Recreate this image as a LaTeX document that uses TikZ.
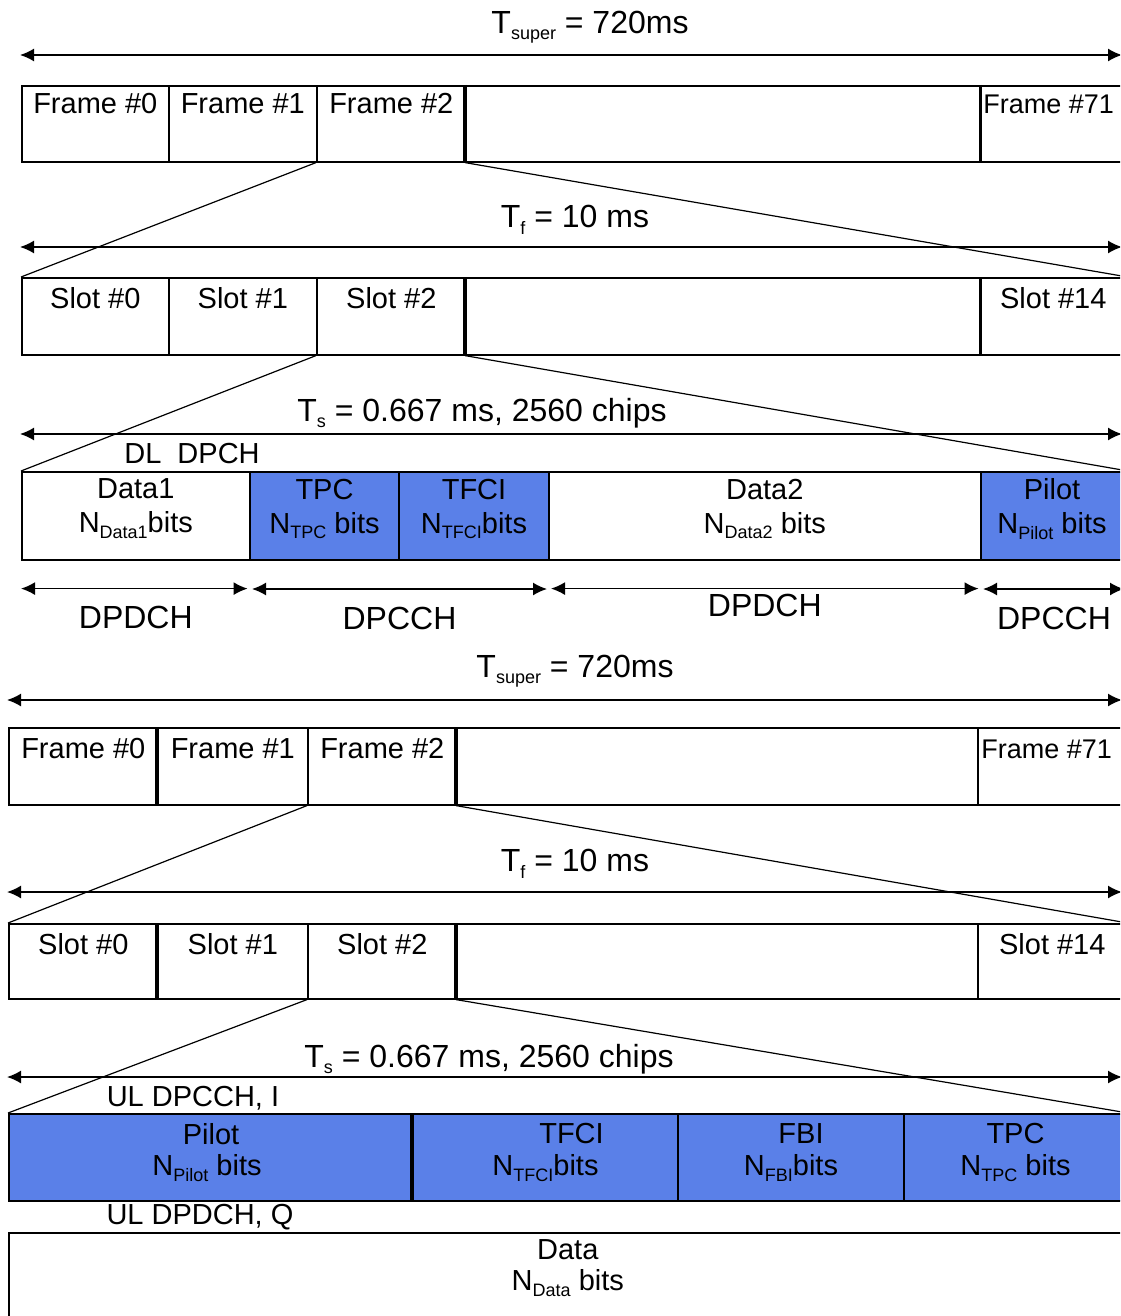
\documentclass[tikz,border=0pt]{standalone}
\usepackage{fontspec}
\setmainfont{Liberation Sans}
\usetikzlibrary{arrows.meta,calc}
\definecolor{chanblue}{RGB}{90,128,232}
\newcommand{\lsub}[1]{\raisebox{-0.2em}{\fontsize{9}{9}\selectfont #1}}

\begin{document}
\begin{tikzpicture}[x=0.5pt,y=-0.5pt,font=\fontsize{14.5}{17}\selectfont]
\useasboundingbox (0,0) rectangle (1120,1316);
\clip (0,0) rectangle (1120,1316);
\tikzstyle{cell} = [rectangle,draw=black,line width=0.8pt,inner sep=0pt,anchor=north west]
\tikzstyle{chan} = [cell,fill=chanblue,line width=1pt]
\tikzstyle{dimline} = [draw=black,line width=0.8pt,{Latex[length=7pt,width=6.5pt]}-{Latex[length=7pt,width=6.5pt]}]
\tikzstyle{zoomline} = [draw=black,line width=0.6pt]
\tikzstyle{thickedge} = [draw=black,line width=1.6pt]
\tikzstyle{headtext} = [font=\fontsize{16}{18}\selectfont,inner sep=1pt]
\tikzstyle{fieldtext} = [align=center,inner sep=0pt]
\tikzstyle{lasttext} = [anchor=west,inner sep=0pt,font=\fontsize{13.5}{16}\selectfont]
%%%%%%%%%%%%%%%%%%%%%%%%%%%%%
% downlink: super frame
%%%%%%%%%%%%%%%%%%%%%%%%%%%%%
\node [headtext] (tsup) at (590,27) {T\lsub{super} = 720ms};
\coordinate (a1l) at (20,55);
\coordinate (a1r) at (1122,55);
\draw [dimline] (a1l) -- (a1r);
\node [cell,minimum width=73.5pt,minimum height=38pt] (fr0) at (21,85) {};
\node [cell,minimum width=74pt,minimum height=38pt] (fr1) at (168,85) {};
\node [cell,minimum width=74.5pt,minimum height=38pt] (fr2) at (316,85) {};
\node [cell,minimum width=257pt,minimum height=38pt] (fr3) at (465,85) {};
\node [cell,minimum width=73.5pt,minimum height=38pt] (fr4) at (979,85) {};
\draw [thickedge] (fr3.north west) -- (fr3.south west);
\draw [thickedge] (fr3.north east) -- (fr3.south east);
\node (fr0t) at ([yshift=-9.5pt]fr0.north) {Frame \#0};
\node (fr1t) at ([yshift=-9.5pt]fr1.north) {Frame \#1};
\node (fr2t) at ([yshift=-9.5pt]fr2.north) {Frame \#2};
\node (fr4t) [lasttext] at ([xshift=2pt,yshift=-9.5pt]fr4.north west) {Frame \#71};
%%%%%%%%%%%%%%%%%%%%%%%%%%%%%
% downlink: radio frame
%%%%%%%%%%%%%%%%%%%%%%%%%%%%%
\node [headtext] (tf) at (575,220) {T\lsub{f} = 10 ms};
\coordinate (a2l) at (20,247);
\coordinate (a2r) at (1122,247);
\draw [dimline] (a2l) -- (a2r);
\node [cell,minimum width=73.5pt,minimum height=38.5pt] (sl0) at (21,277) {};
\node [cell,minimum width=74pt,minimum height=38.5pt] (sl1) at (168,277) {};
\node [cell,minimum width=74.5pt,minimum height=38.5pt] (sl2) at (316,277) {};
\node [cell,minimum width=257pt,minimum height=38.5pt] (sl3) at (465,277) {};
\node [cell,minimum width=73.5pt,minimum height=38.5pt] (sl4) at (979,277) {};
\draw [thickedge] (sl3.north west) -- (sl3.south west);
\draw [thickedge] (sl3.north east) -- (sl3.south east);
\node (sl0t) at ([yshift=-10.5pt]sl0.north) {Slot \#0};
\node (sl1t) at ([yshift=-10.5pt]sl1.north) {Slot \#1};
\node (sl2t) at ([yshift=-10.5pt]sl2.north) {Slot \#2};
\node (sl4t) at ([yshift=-10.5pt]sl4.north) {Slot \#14};
\draw [zoomline] (fr2.south west) -- (sl0.north west);
\draw [zoomline] (fr3.south west) -- (sl4.north east);
%%%%%%%%%%%%%%%%%%%%%%%%%%%%%
% downlink: slot, DL DPCH
%%%%%%%%%%%%%%%%%%%%%%%%%%%%%
\node [headtext] (ts) at (482,413) {T\lsub{s} = 0.667 ms, 2560 chips};
\coordinate (a3l) at (20,434);
\coordinate (a3r) at (1122,434);
\draw [dimline] (a3l) -- (a3r);
\node [inner sep=0pt] (dlname) at (192,454) {DL\ \ DPCH};
\node [cell,minimum width=114pt,minimum height=44pt] (data1) at (21,471) {};
\node [chan,minimum width=74.5pt,minimum height=44pt] (tpc) at (249,471) {};
\node [chan,minimum width=75pt,minimum height=44pt] (tfci) at (398,471) {};
\node [cell,minimum width=216pt,minimum height=44pt] (data2) at (548,471) {};
\node [chan,minimum width=73pt,minimum height=44pt] (pilot) at (980,471) {};
\node [fieldtext] (data1t) at ([yshift=-19pt]data1.north) {Data1\\N\lsub{Data1}bits};
\node [fieldtext] (tpct) at ([yshift=-19pt]tpc.north) {TPC\\N\lsub{TPC} bits};
\node [fieldtext] (tfcit) at ([yshift=-19pt]tfci.north) {TFCI\\N\lsub{TFCI}bits};
\node [fieldtext] (data2t) at ([yshift=-19pt]data2.north) {Data2\\N\lsub{Data2} bits};
\node [fieldtext] (pilott) at ([xshift=-1pt,yshift=-19pt]pilot.north) {Pilot\\N\lsub{Pilot} bits};
\draw [zoomline] (sl2.south west) -- (data1.north west);
\draw [zoomline] (sl3.south west) -- (pilot.north east);
% channel spans
\coordinate (c1l) at ([yshift=-14pt]data1.south west);
\coordinate (c1r) at ([xshift=-1.5pt,yshift=-14pt]data1.south east);
\coordinate (c2l) at ([xshift=1.5pt,yshift=-14pt]tpc.south west);
\coordinate (c2r) at ([xshift=-1.5pt,yshift=-14pt]tfci.south east);
\coordinate (c3l) at ([xshift=1.5pt,yshift=-14pt]data2.south west);
\coordinate (c3r) at ([xshift=-1.5pt,yshift=-14pt]data2.south east);
\coordinate (c4l) at ([xshift=1.5pt,yshift=-14pt]pilot.south west);
\coordinate (c4r) at ([xshift=-2pt,yshift=-14pt]pilot.south east);
\draw [dimline] (c1l) -- (c1r);
\draw [dimline] (c2l) -- (c2r);
\draw [dimline] (c3l) -- (c3r);
\draw [dimline] (c4l) -- (c4r);
\node [headtext] (c1t) at ([yshift=-28.5pt]data1.south) {DPDCH};
\node [headtext] (c2t) at ([yshift=-28.5pt]$(tpc.south west)!0.5!(tfci.south east)$) {DPCCH};
\node [headtext] (c3t) at ([yshift=-22.5pt]data2.south) {DPDCH};
\node [headtext] (c4t) at ([yshift=-28.5pt]pilot.south) {DPCCH};
%%%%%%%%%%%%%%%%%%%%%%%%%%%%%
% uplink: super frame
%%%%%%%%%%%%%%%%%%%%%%%%%%%%%
\node [headtext] (utsup) at (575,671) {T\lsub{super} = 720ms};
\coordinate (a4l) at (7,700);
\coordinate (a4r) at (1122,700);
\draw [dimline] (a4l) -- (a4r);
\node [cell,minimum width=74.5pt,minimum height=38.5pt] (ufr0) at (8,727) {};
\node [cell,minimum width=75pt,minimum height=38.5pt] (ufr1) at (157,727) {};
\node [cell,minimum width=74.5pt,minimum height=38.5pt] (ufr2) at (307,727) {};
\node [cell,minimum width=260.5pt,minimum height=38.5pt] (ufr3) at (456,727) {};
\node [cell,minimum width=74.5pt,minimum height=38.5pt] (ufr4) at (977,727) {};
\draw [thickedge] (ufr1.north west) -- (ufr1.south west);
\draw [thickedge] (ufr3.north west) -- (ufr3.south west);
\node (ufr0t) at ([yshift=-11pt]ufr0.north) {Frame \#0};
\node (ufr1t) at ([yshift=-11pt]ufr1.north) {Frame \#1};
\node (ufr2t) at ([yshift=-11pt]ufr2.north) {Frame \#2};
\node (ufr4t) [lasttext] at ([xshift=2pt,yshift=-11pt]ufr4.north west) {Frame \#71};
%%%%%%%%%%%%%%%%%%%%%%%%%%%%%
% uplink: radio frame
%%%%%%%%%%%%%%%%%%%%%%%%%%%%%
\node [headtext] (utf) at (575,864) {T\lsub{f} = 10 ms};
\coordinate (a5l) at (7,892);
\coordinate (a5r) at (1122,892);
\draw [dimline] (a5l) -- (a5r);
\node [cell,minimum width=74.5pt,minimum height=37.5pt] (usl0) at (8,923) {};
\node [cell,minimum width=75pt,minimum height=37.5pt] (usl1) at (157,923) {};
\node [cell,minimum width=74.5pt,minimum height=37.5pt] (usl2) at (307,923) {};
\node [cell,minimum width=260.5pt,minimum height=37.5pt] (usl3) at (456,923) {};
\node [cell,minimum width=74.5pt,minimum height=37.5pt] (usl4) at (977,923) {};
\draw [thickedge] (usl1.north west) -- (usl1.south west);
\draw [thickedge] (usl3.north west) -- (usl3.south west);
\node (usl0t) at ([yshift=-10.5pt]usl0.north) {Slot \#0};
\node (usl1t) at ([yshift=-10.5pt]usl1.north) {Slot \#1};
\node (usl2t) at ([yshift=-10.5pt]usl2.north) {Slot \#2};
\node (usl4t) at ([yshift=-10.5pt]usl4.north) {Slot \#14};
\draw [zoomline] (ufr2.south west) -- (usl0.north west);
\draw [zoomline] (ufr3.south west) -- (usl4.north east);
%%%%%%%%%%%%%%%%%%%%%%%%%%%%%
% uplink: slot, UL DPCCH (I) and UL DPDCH (Q)
%%%%%%%%%%%%%%%%%%%%%%%%%%%%%
\node [headtext] (uts) at (489,1059) {T\lsub{s} = 0.667 ms, 2560 chips};
\coordinate (a6l) at (7,1077);
\coordinate (a6r) at (1122,1077);
\draw [dimline] (a6l) -- (a6r);
\node [inner sep=0pt] (ulname) at (193,1098) {UL DPCCH, I};
\node [chan,minimum width=202pt,minimum height=43.5pt] (upilot) at (8,1113) {};
\node [chan,minimum width=132.5pt,minimum height=43.5pt] (utfci) at (412,1113) {};
\node [chan,minimum width=113pt,minimum height=43.5pt] (ufbi) at (677,1113) {};
\node [chan,minimum width=111.5pt,minimum height=43.5pt] (utpc) at (903,1113) {};
\draw [thickedge] (utfci.north west) -- (utfci.south west);
\node (upilott) at ([yshift=-10.5pt]upilot.north) {Pilot};
\node (upilotb) at ([xshift=-2pt,yshift=-27.5pt]upilot.north) {N\lsub{Pilot} bits};
\node (utfcit) at ([xshift=13pt,yshift=-10.5pt]utfci.north) {TFCI};
\node (utfcib) at ([yshift=-27.5pt]utfci.north) {N\lsub{TFCI}bits};
\node (ufbit) at ([xshift=5pt,yshift=-10.5pt]ufbi.north) {FBI};
\node (ufbib) at ([yshift=-27.5pt]ufbi.north) {N\lsub{FBI}bits};
\node (utpct) at ([yshift=-10.5pt]utpc.north) {TPC};
\node (utpcb) at ([yshift=-27.5pt]utpc.north) {N\lsub{TPC} bits};
\draw [zoomline] (usl2.south west) -- (upilot.north west);
\draw [zoomline] (usl3.south west) -- (utpc.north east);
\node [inner sep=0pt] (ulqname) at (200,1217) {UL DPDCH, Q};
\node [cell,minimum width=559pt,minimum height=50pt] (udata) at (8,1232) {};
\node (udatat) at ([yshift=-9pt]udata.north) {Data};
\node (udatab) at ([yshift=-25.5pt]udata.north) {N\lsub{Data} bits};
\end{tikzpicture}
\end{document}
